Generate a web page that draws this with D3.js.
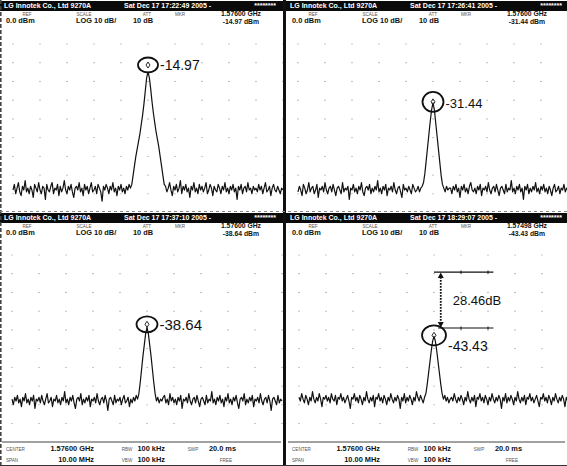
<!DOCTYPE html>
<html><head><meta charset="utf-8">
<script src="https://cdn.jsdelivr.net/npm/d3@7"></script>
<style>
body{margin:0;background:#fff;}
svg{display:block;font-family:"Liberation Sans",Arial,sans-serif;}
</style></head><body>
<svg id="c" width="567" height="466"></svg>
<script>
// ---------------- DATA ----------------
const headerCompany = "LG Innotek Co., Ltd 9270A";
const headerDates = ["Sat Dec 17 17:22:49 2005 -","Sat Dec 17 17:26:41 2005 -","Sat Dec 17 17:37:10 2005 -","Sat Dec 17 18:29:07 2005 -"];
const headerStars = "********";
const headerLabels = ["REF","SCALE","ATT","MKR"];
const headerValues = ["0.0 dBm","LOG 10 dB/","10 dB"];
const markerFreqs = ["1.57600 GHz","1.57600 GHz","1.57600 GHz","1.57498 GHz"];
const markerValues = [-14.97,-31.44,-38.64,-43.43];
const footerRow1 = ["CENTER","1.57600 GHz","RBW","100 kHz","SWP","20.0 ms"];
const footerRow2 = ["SPAN","10.00 MHz","VBW","100 kHz","","FREE"];
const spanMHz = [-5, 5];          // 10.00 MHz span around the centre
const dbRange = [0, -100];        // ref level 0 dBm, 10 dB/div
const deltaLevels = [-9.1, -39.0];
const deltaLabel = "28.46dB";

// trace samples (dBm), 201 points across the 10 MHz span
const noiseTL = [
-78,-75,-80,-77,-74,-79,-81,-76,-78,-73,-79,-77,-80,-76,-78,-82,-75,-77,-79,-74,
-78,-80,-76,-77,-83,-75,-78,-79,-76,-74,-80,-77,-78,-75,-81,-76,-79,-77,-73,-78,
-80,-76,-78,-75,-79,-82,-77,-76,-78,-74,-79,-77,-81,-75,-78,-76,-80,-77,-74,-79,
-78,-76,-80,-75,-77,-79,-84,-76,-78,-75,-77,-80,-76,-78,-74,-79,-77,-81,-76,-78,
-75,-79,-77,-80,-76,-78,-75,-77,-79,-76,-78,-80,-77,-75,-78,-76,-79,-77,-78,-76,
-79,-76,-78,-75,-80,-77,-78,-76,-79,-77,-75,-78,-80,-76,-79,-77,-74,-78,-81,-76,
-78,-75,-79,-77,-73,-80,-76,-78,-75,-79,-77,-82,-76,-78,-74,-79,-77,-80,-75,-78,
-76,-79,-77,-74,-80,-78,-75,-77,-81,-76,-78,-79,-75,-77,-80,-76,-78,-74,-79,-77,
-80,-76,-78,-75,-79,-77,-83,-76,-78,-75,-80,-77,-76,-79,-74,-78,-77,-80,-76,-78,
-77,-79,-75,-78,-76,-80,-77,-74,-79,-78,-76,-81,-77,-75,-78,-79,-76,-78,-80,-77,-78];
const noiseTR = [
-79,-76,-78,-81,-75,-77,-80,-78,-74,-79,-77,-76,-80,-78,-75,-82,-77,-78,-76,-79,
-74,-78,-80,-77,-76,-79,-75,-78,-81,-77,-76,-78,-80,-74,-79,-77,-78,-76,-83,-77,
-78,-75,-79,-77,-80,-76,-78,-74,-79,-81,-77,-76,-78,-75,-80,-77,-79,-76,-78,-73,
-79,-77,-80,-76,-78,-75,-81,-77,-78,-76,-79,-74,-78,-80,-77,-76,-79,-82,-75,-78,
-77,-79,-76,-78,-80,-75,-77,-79,-76,-73,-78,-80,-77,-79,-76,-78,-75,-80,-77,-79,
-76,-78,-80,-77,-75,-79,-78,-76,-81,-77,-78,-74,-79,-77,-80,-76,-78,-75,-79,-77,
-82,-76,-78,-75,-79,-77,-80,-76,-74,-78,-79,-77,-80,-76,-78,-75,-81,-77,-78,-76,
-79,-74,-78,-80,-77,-76,-79,-75,-78,-81,-77,-76,-78,-80,-75,-79,-77,-78,-73,-79,
-77,-80,-76,-78,-75,-79,-77,-83,-76,-78,-75,-80,-77,-79,-76,-78,-74,-79,-77,-80,
-76,-78,-75,-79,-77,-80,-76,-78,-81,-77,-75,-79,-78,-76,-80,-77,-78,-75,-79,-77,-78];
const noiseBL = [
-77,-80,-76,-78,-75,-79,-77,-81,-76,-78,-74,-79,-77,-80,-76,-78,-75,-82,-77,-78,
-76,-79,-75,-78,-80,-77,-74,-79,-78,-76,-81,-77,-78,-75,-79,-77,-80,-76,-78,-73,
-79,-77,-80,-76,-78,-75,-79,-82,-77,-76,-78,-74,-80,-77,-79,-76,-78,-75,-81,-77,
-78,-76,-79,-74,-78,-80,-77,-76,-79,-75,-78,-83,-77,-76,-78,-80,-75,-79,-77,-78,
-76,-80,-77,-75,-79,-78,-76,-81,-77,-78,-74,-79,-77,-80,-76,-78,-75,-79,-77,-80,
-78,-76,-79,-77,-75,-80,-78,-76,-79,-77,-81,-76,-78,-75,-79,-77,-80,-74,-78,-76,
-79,-77,-80,-76,-78,-75,-82,-77,-78,-76,-79,-74,-78,-80,-77,-76,-79,-75,-78,-81,
-77,-76,-78,-80,-75,-79,-77,-78,-73,-79,-77,-80,-76,-78,-75,-79,-77,-81,-76,-78,
-74,-79,-77,-80,-76,-78,-75,-79,-82,-77,-76,-78,-74,-80,-77,-79,-76,-78,-75,-81,
-77,-78,-76,-79,-74,-78,-80,-77,-76,-79,-75,-78,-83,-77,-76,-78,-80,-75,-79,-77,-78];
const noiseBR = [
-76,-78,-74,-77,-79,-75,-77,-80,-76,-78,-73,-77,-79,-76,-78,-74,-77,-81,-76,-77,
-75,-78,-76,-79,-74,-77,-78,-75,-80,-76,-77,-74,-78,-76,-79,-77,-75,-78,-82,-76,
-77,-74,-78,-76,-79,-75,-77,-80,-76,-78,-73,-77,-79,-76,-78,-75,-81,-76,-77,-74,
-78,-76,-79,-75,-77,-80,-76,-78,-74,-77,-79,-76,-78,-75,-77,-82,-76,-78,-74,-79,
-76,-78,-75,-77,-80,-76,-78,-73,-77,-79,-76,-78,-75,-80,-76,-77,-74,-78,-76,-79,
-77,-75,-78,-76,-80,-77,-74,-78,-76,-79,-75,-77,-81,-76,-78,-74,-77,-79,-76,-78,
-75,-77,-80,-76,-78,-73,-77,-79,-76,-78,-75,-81,-76,-77,-74,-78,-76,-79,-75,-77,
-80,-76,-78,-74,-77,-79,-76,-78,-75,-77,-82,-76,-78,-74,-79,-76,-78,-75,-77,-80,
-76,-78,-73,-77,-79,-76,-78,-75,-80,-76,-77,-74,-78,-76,-79,-77,-75,-78,-81,-76,
-77,-74,-78,-76,-79,-75,-77,-80,-76,-78,-74,-77,-79,-76,-78,-75,-77,-81,-76,-78,-77];
// carrier shape, 25 samples from -0.6 MHz to +0.6 MHz around the centre (samples 88..112)
const peakTL = [-75,-70,-65,-60,-56,-52,-48,-43,-38,-32,-25,-18,-14.97,-18,-24,-31,-37,-42,-47,-51,-55,-60,-65,-70,-75];
const peakTR = [-78,-76,-79,-77,-76,-74,-69,-62,-55,-48,-41,-35,-31.44,-35,-42,-49,-56,-63,-70,-75,-77,-79,-76,-78,-77];
const peakBL = [-77,-79,-76,-78,-75,-77,-74,-68,-61,-54,-48,-42,-38.64,-42,-48,-54,-61,-68,-74,-78,-76,-79,-77,-78,-76];
const peakBR = [-76,-78,-75,-77,-79,-76,-74,-69,-63,-57,-51,-46,-43.43,-46,-51,-57,-63,-69,-74,-77,-75,-78,-76,-79,-77];
const peakStart = 88;

// ---------------- LAYOUT ----------------
const panels = [
  {left:0,  top:0,   w:283, h:211, xr:[13,283],  y0:44,  noise:noiseTL, peak:peakTL, mk:{dy:-7,rx:10,ry:7.5, ly:5, fs:14}},
  {left:286,top:0,   w:281, h:211, xr:[298,568], y0:44,  noise:noiseTR, peak:peakTR, mk:{dy:-1,rx:10.5,ry:10, ly:6, fs:13}},
  {left:0,  top:212, w:283, h:254, xr:[12,282],  y0:255, noise:noiseBL, peak:peakBL, mk:{dy:-3,rx:10.5,ry:8, ly:6, fs:15}},
  {left:286,top:212, w:281, h:254, xr:[299,569], y0:255, noise:noiseBR, peak:peakBR, mk:{dy:-1,rx:12,ry:10, ly:16, fs:14}}
];
const pxPerDiv = 18.72;
const fmt = v => v.toFixed(2);

const svg = d3.select("#c");
const idx = d3.scaleLinear().domain([0,200]).range(spanMHz);

panels.forEach((p,pi)=>{
  const g = svg.append("g");
  const x = d3.scaleLinear().domain(spanMHz).range(p.xr);
  const y = d3.scaleLinear().domain(dbRange).range([p.y0, p.y0 + pxPerDiv*10]);
  const clipId = "clip"+pi;
  svg.append("clipPath").attr("id",clipId).append("rect")
    .attr("x",p.left).attr("y",p.top+26).attr("width",p.w).attr("height",(pi>1? 441-p.top-26 : p.h-26));

  // graticule dots
  const gd = g.append("g").attr("clip-path",`url(#${clipId})`);
  const xt = x.ticks(10), yt = y.ticks(10);
  xt.forEach(fx=>yt.forEach(fy=>{
    gd.append("circle").attr("cx",x(fx)).attr("cy",y(fy)).attr("r",0.6).attr("fill","#8a8a8a");
  }));

  // trace
  const trace = p.noise.map((v,i)=> (i>=peakStart && i<peakStart+p.peak.length) ? p.peak[i-peakStart] : v);
  const line = d3.line().x((d,i)=>x(idx(i))).y(d=>y(d));
  g.append("path").attr("clip-path",`url(#${clipId})`).attr("d",line(trace))
    .attr("fill","none").attr("stroke","#111").attr("stroke-width",1.2).attr("stroke-linejoin","round");

  // header bar
  g.append("rect").attr("x",p.left).attr("y",p.top+1).attr("width",p.w).attr("height",10).attr("fill","#0a0a0a");
  const ht = (tx,xx,anchor)=>g.append("text").attr("x",p.left+xx).attr("y",p.top+8.3).attr("fill","#fff")
      .attr("font-size",7).attr("font-weight","bold").attr("text-anchor",anchor||"start").text(tx);
  ht(headerCompany,4); ht(headerDates[pi],124); ht(headerStars,276,"end");
  const lblX = [27,84,147,180];
  headerLabels.forEach((t,k)=>g.append("text").attr("x",p.left+lblX[k]).attr("y",p.top+15.5).attr("font-size",4.6)
     .attr("fill","#555").attr("text-anchor","middle").text(t));
  const valX = [6,76,133];
  headerValues.forEach((t,k)=>g.append("text").attr("x",p.left+valX[k]).attr("y",p.top+23.2).attr("font-size",7.4)
     .attr("font-weight","bold").attr("fill","#111").text(t));
  g.append("text").attr("x",p.left+261).attr("y",p.top+15.6).attr("font-size",6.8).attr("font-weight","bold")
     .attr("text-anchor","end").attr("fill","#111").text(markerFreqs[pi]);
  g.append("text").attr("x",p.left+259).attr("y",p.top+23.6).attr("font-size",6.8).attr("font-weight","bold")
     .attr("text-anchor","end").attr("fill","#111").text(fmt(markerValues[pi])+" dBm");

  // marker circle + label
  const cx = x(0), cy = y(markerValues[pi]) + p.mk.dy;
  g.append("ellipse").attr("cx",cx).attr("cy",cy).attr("rx",p.mk.rx).attr("ry",p.mk.ry)
    .attr("fill","none").attr("stroke","#111").attr("stroke-width",1.8);
  g.append("path").attr("d",`M${cx},${cy-3}L${cx+2},${cy}L${cx},${cy+3}L${cx-2},${cy}Z`)
    .attr("fill","none").attr("stroke","#111").attr("stroke-width",0.9);
  g.append("text").attr("x",cx+p.mk.rx+2).attr("y",cy+p.mk.ly).attr("font-size",p.mk.fs)
    .attr("fill","#111").text(fmt(markerValues[pi]));

  // footer for bottom panels
  if(pi>1){
    g.append("line").attr("x1",p.left+2).attr("x2",p.left+p.w-2).attr("y1",442).attr("y2",442)
      .attr("stroke","#444").attr("stroke-width",1.2);
    const fx = [[6,"start",4.6,"normal"],[94,"end",7.4,"bold"],[127,"middle",4.6,"normal"],[165,"end",7.4,"bold"],[193,"middle",4.6,"normal"],[236,"end",7.4,"bold"]];
    [footerRow1,footerRow2].forEach((row,r)=>row.forEach((t,k)=>{
      const small = fx[k][2] < 6 || (r===1 && k===5);
      g.append("text").attr("x",p.left+(r===1&&k===5?232:fx[k][0])).attr("y",r===0?451:462)
        .attr("text-anchor",fx[k][1]).attr("font-size",small?4.6:fx[k][2])
        .attr("font-weight",small?"normal":fx[k][3]).attr("fill",small?"#555":"#111").text(t);
    }));
  }

  // delta marker (bottom-right)
  if(pi===3){
    const ya = y(deltaLevels[0]), yb = y(deltaLevels[1]);
    g.append("line").attr("x1",x(0)).attr("x2",x(2.2)).attr("y1",ya).attr("y2",ya).attr("stroke","#111").attr("stroke-width",1.2);
    g.append("line").attr("x1",x(0.15)).attr("x2",x(2.2)).attr("y1",yb).attr("y2",yb).attr("stroke","#111").attr("stroke-width",1.2);
    [1,2].forEach(m=>[ya,yb].forEach(yy=>g.append("line").attr("x1",x(m)).attr("x2",x(m)).attr("y1",yy-1.5).attr("y2",yy+1.5)
        .attr("stroke","#111").attr("stroke-width",1)));
    const vx = x(0.25);
    g.append("line").attr("x1",vx).attr("x2",vx).attr("y1",ya+5).attr("y2",yb-5)
      .attr("stroke","#111").attr("stroke-width",1.8).attr("stroke-dasharray","1.6,1.4");
    g.append("path").attr("d",`M${vx},${ya+0.5}L${vx-3},${ya+6}L${vx+3},${ya+6}Z`).attr("fill","#111");
    g.append("path").attr("d",`M${vx},${yb-0.5}L${vx-3},${yb-6}L${vx+3},${yb-6}Z`).attr("fill","#111");
    g.append("text").attr("x",vx+12).attr("y",(ya+yb)/2+5).attr("font-size",13).attr("fill","#111").text(deltaLabel);
  }
});

// frame lines
svg.append("line").attr("x1",0.8).attr("x2",0.8).attr("y1",0).attr("y2",466).attr("stroke","#444").attr("stroke-width",1.6).attr("stroke-dasharray","4,2");
svg.append("rect").attr("x",283).attr("y",0).attr("width",3).attr("height",466).attr("fill","#111");
svg.append("line").attr("x1",0).attr("x2",567).attr("y1",211.5).attr("y2",211.5).attr("stroke","#888").attr("stroke-width",1).attr("stroke-dasharray","3,3");
svg.append("line").attr("x1",0).attr("x2",567).attr("y1",465.5).attr("y2",465.5).attr("stroke","#333").attr("stroke-width",1);
</script>
</body></html>
